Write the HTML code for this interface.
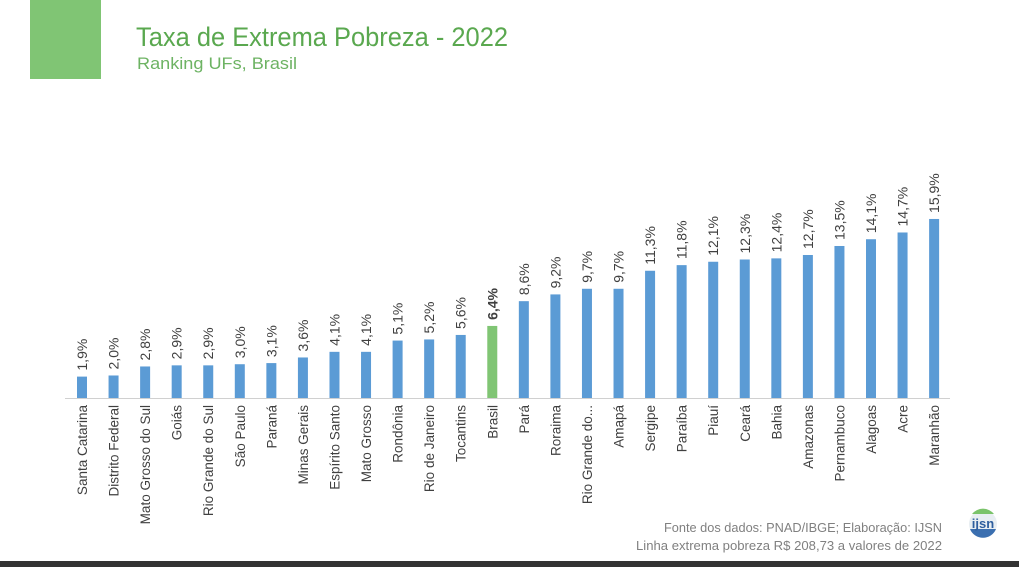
<!DOCTYPE html>
<html><head><meta charset="utf-8"><style>
html,body{margin:0;padding:0;background:#fff;}
body{width:1019px;height:567px;overflow:hidden;position:relative;font-family:"Liberation Sans",sans-serif;}
</style></head><body>
<svg width="1019" height="567" xmlns="http://www.w3.org/2000/svg" style="position:absolute;left:0;top:0">
<rect x="30" y="0" width="71" height="79" fill="#80c574"/>
<text x="136" y="46" font-size="27" fill="#5aa84f" font-family="Liberation Sans, sans-serif" textLength="372" lengthAdjust="spacingAndGlyphs">Taxa de Extrema Pobreza - 2022</text>
<text x="137" y="69" font-size="17" fill="#6db363" font-family="Liberation Sans, sans-serif" textLength="160" lengthAdjust="spacingAndGlyphs">Ranking UFs, Brasil</text>
<line x1="65" y1="398.5" x2="950" y2="398.5" stroke="#d0d0d0" stroke-width="1"/>
<g id="bars" font-family="Liberation Sans, sans-serif" font-size="13.5" fill="#404040"></g>
<text x="942" y="532" font-size="13" fill="#808080" text-anchor="end" textLength="278" lengthAdjust="spacingAndGlyphs">Fonte dos dados: PNAD/IBGE; Elaboração: IJSN</text>
<text x="942" y="550" font-size="13" fill="#808080" text-anchor="end" textLength="306" lengthAdjust="spacingAndGlyphs">Linha extrema pobreza R$ 208,73 a valores de 2022</text>
<circle cx="983" cy="524" r="14" fill="#e8eef2"/>
<path d="M970,529 A14,14 0 0 0 996,529 Z" fill="#3b6fb0"/>
<path d="M972,514 A14,14 0 0 1 994,514 Z" fill="#7ac36a"/>
<text x="983" y="528" font-size="13" font-weight="bold" fill="#2e5e9e" text-anchor="middle">ijsn</text>
<rect x="0" y="561" width="1019" height="6" fill="#333"/>
</svg>
<script>
const d=[["Santa Catarina",1.9],["Distrito Federal",2.0],["Mato Grosso do Sul",2.8],["Goiás",2.9],["Rio Grande do Sul",2.9],["São Paulo",3.0],["Paraná",3.1],["Minas Gerais",3.6],["Espírito Santo",4.1],["Mato Grosso",4.1],["Rondônia",5.1],["Rio de Janeiro",5.2],["Tocantins",5.6],["Brasil",6.4],["Pará",8.6],["Roraima",9.2],["Rio Grande do...",9.7],["Amapá",9.7],["Sergipe",11.3],["Paraíba",11.8],["Piauí",12.1],["Ceará",12.3],["Bahia",12.4],["Amazonas",12.7],["Pernambuco",13.5],["Alagoas",14.1],["Acre",14.7],["Maranhão",15.9]];
let s="";
d.forEach((e,i)=>{const cx=82+i*31.56,h=e[1]*11.26,t=398-h;const br=e[0]=="Brasil";
s+=`<rect x="${cx-5}" y="${t}" width="10" height="${h}" fill="${br?'#80c574':'#5b9bd5'}"/>`;
s+=`<text transform="translate(${cx+5},${t-6}) rotate(-90)" font-size="14" ${br?'font-weight="bold"':''}>${e[1].toFixed(1).replace('.',',')}%</text>`;
s+=`<text transform="translate(${cx+5},405) rotate(-90)" text-anchor="end">${e[0]}</text>`;});
document.getElementById("bars").innerHTML=s;
</script>
</body></html>
